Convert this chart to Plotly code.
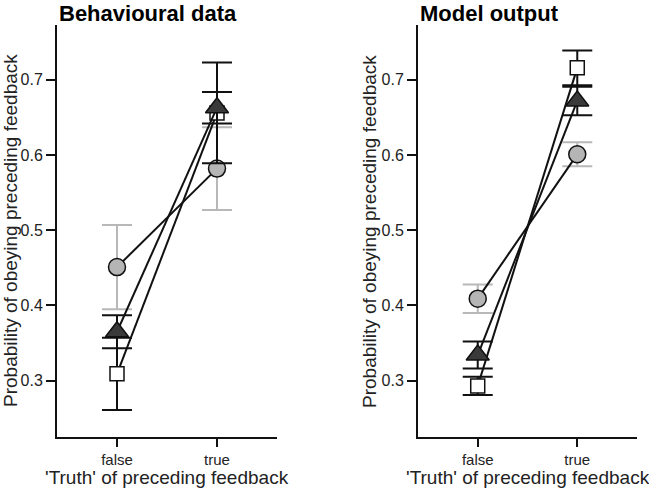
import plotly.graph_objects as go

W, H = 649, 488

categories = ["false", "true"]
cat_x = [0, 1]

# Behavioural data
behav_circle = [0.451, 0.582]
behav_circle_err = [0.056, 0.055]
behav_triangle = [0.365, 0.663]
behav_triangle_err = [0.022, 0.021]
behav_square = [0.309, 0.656]
behav_square_err = [0.048, 0.067]

# Model output
model_circle = [0.409, 0.601]
model_circle_err = [0.019, 0.016]
model_triangle = [0.334, 0.672]
model_triangle_err = [0.018, 0.019]
model_square = [0.293, 0.716]
model_square_err = [0.012, 0.023]

y_ticks = [0.3, 0.4, 0.5, 0.6, 0.7]
y_ticklabels = ["0.3", "0.4", "0.5", "0.6", "0.7"]

panel_titles = ["Behavioural data", "Model output"]
y_title = "Probability of obeying preceding feedback"
x_title = "'Truth' of preceding feedback"

FONT = "Liberation Sans, Arial, sans-serif"
BLACK = "#111111"
GREY_FILL = "#b5b5b5"
GREY_ERR = "#b8b8b8"
DARK_FILL = "#3a3a3a"

fig = go.Figure()

styles = [
    dict(symbol="circle", size=17, fill=GREY_FILL, err=GREY_ERR),
    dict(symbol="square", size=14, fill="white", err=BLACK),
    dict(symbol="triangle-up", size=20, fill=DARK_FILL, err=BLACK),
]

panels = [
    ("x", "y", [behav_circle, behav_square, behav_triangle],
     [behav_circle_err, behav_square_err, behav_triangle_err]),
    ("x2", "y2", [model_circle, model_square, model_triangle],
     [model_circle_err, model_square_err, model_triangle_err]),
]

for xa, ya, series, errs in panels:
    for vals, err, st in zip(series, errs, styles):
        fig.add_trace(go.Scatter(
            x=cat_x, y=vals, xaxis=xa, yaxis=ya, mode="lines+markers",
            line=dict(color=BLACK, width=2),
            marker=dict(symbol=st["symbol"], size=st["size"], color=st["fill"],
                        line=dict(color=BLACK, width=1.5)),
            error_y=dict(type="data", array=err, visible=True, color=st["err"],
                         thickness=2, width=15),
            showlegend=False, hoverinfo="skip",
        ))

def px_x(p):
    return p / W

def px_y(p):
    return (H - p) / H

ydom = [px_y(437), px_y(25)]
doms = [[px_x(57), px_x(277)], [px_x(418), px_x(637)]]

axis_common = dict(showline=True, linecolor=BLACK, linewidth=2, ticks="outside",
                   tickcolor=BLACK, tickwidth=2, showgrid=False, zeroline=False)
xfont = dict(family=FONT, size=15, color="#222222")
yfont = dict(family=FONT, size=16, color="#222222")

fig.update_layout(
    width=W, height=H, margin=dict(l=0, r=0, t=0, b=0),
    paper_bgcolor="white", plot_bgcolor="white",
    xaxis=dict(domain=doms[0], range=[-0.6, 1.6], tickvals=cat_x, ticktext=categories,
               ticklen=8, anchor="y", tickfont=xfont, **axis_common),
    yaxis=dict(domain=ydom, range=[0.225, 0.773], tickvals=y_ticks, ticktext=y_ticklabels,
               ticklen=9, anchor="x", tickfont=yfont, **axis_common),
    xaxis2=dict(domain=doms[1], range=[-0.6, 1.6], tickvals=cat_x, ticktext=categories,
                ticklen=8, anchor="y2", tickfont=xfont, **axis_common),
    yaxis2=dict(domain=ydom, range=[0.225, 0.773], tickvals=y_ticks, ticktext=y_ticklabels,
                ticklen=9, anchor="x2", tickfont=yfont, **axis_common),
)

annotations = []
for i, (title, ycx, xcx) in enumerate(zip(panel_titles, [10, 369], [167, 527.5])):
    annotations.append(dict(text="<b>%s</b>" % title, x=px_x([57, 418][i]), y=px_y(-1),
                            xref="paper", yref="paper", xanchor="left", yanchor="top",
                            showarrow=False, font=dict(family=FONT, size=22, color="black")))
    annotations.append(dict(text=y_title, x=px_x(ycx), y=px_y(231), xref="paper", yref="paper",
                            xanchor="center", yanchor="middle", textangle=-90, showarrow=False,
                            font=dict(family=FONT, size=19, color="#222222")))
    annotations.append(dict(text=x_title, x=px_x(xcx), y=px_y(477), xref="paper", yref="paper",
                            xanchor="center", yanchor="middle", showarrow=False,
                            font=dict(family=FONT, size=19, color="#222222")))
fig.update_layout(annotations=annotations)

fig.write_html("out.html", config={"displayModeBar": False},
               post_script="document.body.style.margin='0';document.body.style.overflow='hidden';")
